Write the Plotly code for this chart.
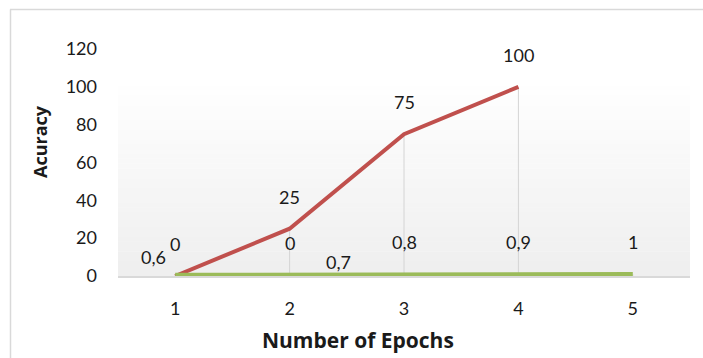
import plotly.graph_objects as go

# Data
epochs = [1, 2, 3, 4, 5]
accuracy = [0, 25, 75, 100]            # red series, epochs 1-4
loss = [0.6, 0.7, 0.8, 0.9, 1]         # green series, epochs 1-5
extra_label_x = [2]                     # extra zero label at epoch 2
extra_label_y = [0]
y_ticks = [0, 20, 40, 60, 80, 100, 120]

RED = "#c0504d"
GREEN = "#9bbb59"
FONT = "Lato, 'Open Sans', sans-serif"
TITLE_FONT = "'Open Sans', Lato, sans-serif"
TEXT = "#1a1a1a"

W, H = 703, 358
ML, MR, MT, MB = 118, 13, 49, 82
PW, PH = W - ML - MR, H - MT - MB


def fmt(v):
    return str(v).replace(".", ",")


def px_x(p):
    return (p - ML) / PW


def px_y(p):
    return (H - MB - p) / PH


fig = go.Figure()

# Drop lines from the highest point at each epoch down to the axis
drop_x, drop_y = [], []
for i, x in enumerate(epochs):
    top = max(accuracy[i] if i < len(accuracy) else 0, loss[i])
    drop_x += [x, x, None]
    drop_y += [0, top, None]
fig.add_trace(go.Scatter(x=drop_x, y=drop_y, mode="lines",
                         line=dict(color="#d4d4d4", width=1),
                         hoverinfo="skip", showlegend=False))

fig.add_trace(go.Scatter(x=epochs[:len(accuracy)], y=accuracy, mode="lines",
                         line=dict(color=RED, width=4), showlegend=False))
fig.add_trace(go.Scatter(x=epochs, y=loss, mode="lines",
                         line=dict(color=GREEN, width=4), showlegend=False))

# Data labels
ann = []
for x, v in zip(epochs, accuracy):
    ann.append(dict(x=x, y=v, text=fmt(v), yshift=32, xshift=0))
loss_shifts = [(-22, 18), (49, 13), (0, 32), (0, 32), (0, 32)]
for x, v, (dx, dy) in zip(epochs, loss, loss_shifts):
    ann.append(dict(x=x, y=v, text=fmt(v), xshift=dx, yshift=dy))
for x, v in zip(extra_label_x, extra_label_y):
    ann.append(dict(x=x, y=v, text=fmt(v), yshift=33))
for a in ann:
    a.update(showarrow=False, xref="x", yref="y",
             font=dict(family=FONT, size=18, color=TEXT))

# Axis titles
ann.append(dict(text="<b>Number of Epochs</b>", xref="paper", yref="paper",
                x=px_x(358), y=px_y(340), showarrow=False,
                xanchor="center", yanchor="middle",
                font=dict(family=TITLE_FONT, size=21, color=TEXT)))
ann.append(dict(text="<b>Acuracy</b>", xref="paper", yref="paper",
                x=px_x(40), y=px_y(142), showarrow=False, textangle=-90,
                xanchor="center", yanchor="middle",
                font=dict(family=TITLE_FONT, size=18, color=TEXT)))

# Plot-area gradient (white at top to light grey at the axis)
shapes = []
n = 40
y_top, y_bot = 0.86, 0.0
for k in range(n):
    y0 = y_bot + (y_top - y_bot) * k / n
    y1 = y_bot + (y_top - y_bot) * (k + 1) / n
    t = k / (n - 1)
    c = int(239 + (255 - 239) * t)
    shapes.append(dict(type="rect", xref="paper", yref="paper",
                       x0=0, x1=1, y0=y0, y1=y1 + 0.002, layer="below",
                       line=dict(width=0), fillcolor=f"rgb({c},{c},{c})"))
# Chart outer border (top and left edges)
shapes.append(dict(type="line", xref="paper", yref="paper",
                   x0=px_x(10), x1=px_x(710), y0=px_y(9.5), y1=px_y(9.5),
                   line=dict(color="#d9d9d9", width=1.5)))
shapes.append(dict(type="line", xref="paper", yref="paper",
                   x0=px_x(10.5), x1=px_x(10.5), y0=px_y(370), y1=px_y(9.5),
                   line=dict(color="#d9d9d9", width=1.5)))

fig.update_layout(
    width=W, height=H,
    margin=dict(l=ML, r=MR, t=MT, b=MB),
    paper_bgcolor="white", plot_bgcolor="rgba(0,0,0,0)",
    font=dict(family=FONT, size=18, color=TEXT),
    annotations=ann, shapes=shapes,
    xaxis=dict(range=[0.5, 5.5], tickvals=epochs, showgrid=False,
               zeroline=False, showline=True, linecolor="#d9d9d9", linewidth=1.5,
               ticks="", ticklabelstandoff=16,
               tickfont=dict(family=FONT, size=18, color=TEXT)),
    yaxis=dict(range=[0, 120], tickvals=y_ticks, showgrid=False,
               zeroline=False, showline=False, ticks="",
               ticklabelstandoff=20,
               tickfont=dict(family=FONT, size=18, color=TEXT)),
)

fig.write_html("out.html")
